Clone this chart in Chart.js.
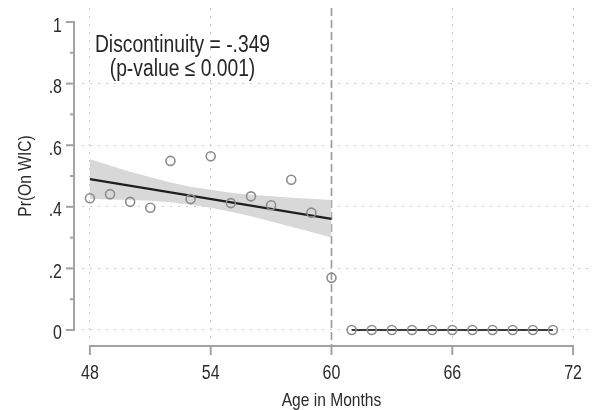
<!DOCTYPE html>
<html><head><meta charset="utf-8">
<script src="https://cdn.jsdelivr.net/npm/chart.js@4.4.0/dist/chart.umd.min.js"></script>
<style>html,body{margin:0;padding:0;background:#fff}#wrap{width:594px;height:410px}</style>
</head><body><div id="wrap"><canvas id="c" width="594" height="410"></canvas></div>
<script>
// ---- data ----
const months = [48,49,50,51,52,53,54,55,56,57,58,59,60,61,62,63,64,65,66,67,68,69,70,71];
const shareOnWIC = [0.428,0.441,0.416,0.397,0.549,0.425,0.564,0.412,0.434,0.405,0.488,0.381,0.170,0,0,0,0,0,0,0,0,0,0,0];
const fitLeftX = [48, 60];
const fitLeftY = [0.490, 0.361];
const fitRightX = [61, 71];
const fitRightY = [0, 0];
const bandX = [48,49,50,51,52,53,54,55,56,57,58,59,60];
const bandUpper = [0.554,0.534,0.514,0.496,0.479,0.465,0.455,0.446,0.439,0.434,0.429,0.426,0.422];
const bandLower = [0.426,0.424,0.422,0.420,0.415,0.407,0.397,0.384,0.369,0.352,0.335,0.318,0.300];
const xTicks = [48,54,60,66,72];
const yTicks = [0,0.2,0.4,0.6,0.8,1];
const yTickLabels = ["0",".2",".4",".6",".8","1"];
const yMinorTicks = [0.1,0.3,0.5,0.7,0.9];
const cutoff = 60;
const noteLines = ["Discontinuity = -.349", "(p-value \u2264 0.001)"];
const xTitle = "Age in Months";
const yTitle = "Pr(On WIC)";

const FONT = "'Liberation Sans','Arial',sans-serif";
const NARROW = 0.82;
const pts = (xs, ys) => xs.map((x, i) => ({x: x, y: ys[i]}));

function narrowText(ctx, text, x, y, size, rot) {
  ctx.save();
  ctx.translate(x, y);
  if (rot) ctx.rotate(rot);
  ctx.scale(NARROW, 1);
  ctx.font = size + "px " + FONT;
  ctx.fillText(text, 0, 0);
  ctx.restore();
}

const axesPlugin = {
  id: 'stataAxes',
  beforeDatasetsDraw(chart) {
    const {ctx, chartArea, scales: {x}} = chart;
    ctx.save();
    ctx.strokeStyle = '#9a9a9a';
    ctx.lineWidth = 1.6;
    ctx.setLineDash([8, 4]);
    const cx = Math.round(x.getPixelForValue(cutoff)) + 0.5;
    ctx.beginPath();
    ctx.moveTo(cx, chartArea.top);
    ctx.lineTo(cx, chartArea.bottom + 8);
    ctx.stroke();
    ctx.restore();
  },
  afterDraw(chart) {
    const {ctx, chartArea, scales: {x, y}} = chart;
    ctx.save();
    ctx.strokeStyle = '#a3a3a3';
    ctx.lineWidth = 2;
    const ax = chartArea.left - 8;
    ctx.beginPath();
    ctx.moveTo(ax, y.getPixelForValue(yTicks[0]));
    ctx.lineTo(ax, y.getPixelForValue(yTicks[yTicks.length - 1]));
    ctx.stroke();
    yTicks.forEach(v => {
      const py = y.getPixelForValue(v);
      ctx.beginPath(); ctx.moveTo(ax - 8, py); ctx.lineTo(ax + 1, py); ctx.stroke();
    });
    yMinorTicks.forEach(v => {
      const py = y.getPixelForValue(v);
      ctx.beginPath(); ctx.moveTo(ax - 4, py); ctx.lineTo(ax + 1, py); ctx.stroke();
    });
    const ay = chartArea.bottom + 8;
    ctx.beginPath();
    ctx.moveTo(x.getPixelForValue(xTicks[0]), ay);
    ctx.lineTo(x.getPixelForValue(xTicks[xTicks.length - 1]), ay);
    ctx.stroke();
    xTicks.forEach(v => {
      const px = x.getPixelForValue(v);
      ctx.beginPath(); ctx.moveTo(px, ay - 1); ctx.lineTo(px, ay + 9); ctx.stroke();
    });
    // tick labels
    ctx.fillStyle = '#2a2a2a';
    ctx.textAlign = 'center';
    ctx.textBaseline = 'alphabetic';
    xTicks.forEach(v => narrowText(ctx, String(v), x.getPixelForValue(v), 379, 19.5, 0));
    ctx.textAlign = 'right';
    yTicks.forEach((v, i) => narrowText(ctx, yTickLabels[i], 62, y.getPixelForValue(v) + 9.5, 19.5, 0));
    // axis titles
    ctx.textAlign = 'center';
    narrowText(ctx, xTitle, (x.getPixelForValue(xTicks[0]) + x.getPixelForValue(xTicks[xTicks.length-1])) / 2, 405.5, 19, 0);
    narrowText(ctx, yTitle, 30.5, (y.getPixelForValue(0) + y.getPixelForValue(1)) / 2, 19, -Math.PI / 2);
    // annotation
    ctx.fillStyle = '#262626';
    narrowText(ctx, noteLines[0], 182.5, chartArea.top + 43.5, 23.5, 0);
    narrowText(ctx, noteLines[1], 182.5, chartArea.top + 67.5, 23.5, 0);
    ctx.restore();
  }
};

new Chart(document.getElementById('c'), {
  type: 'line',
  data: {
    datasets: [
      { label: 'Share on WIC', data: pts(months, shareOnWIC), showLine: false,
        pointRadius: 4.5, pointHoverRadius: 4.5, pointBorderWidth: 1.6,
        pointBorderColor: '#8c8c8c', pointBackgroundColor: 'rgba(0,0,0,0)' },
      { label: 'Fit left', data: pts(fitLeftX, fitLeftY), borderColor: '#1e1e1e',
        borderWidth: 2.4, pointRadius: 0, fill: false },
      { label: 'Fit right', data: pts(fitRightX, fitRightY), borderColor: '#3a3a3a',
        borderWidth: 2, pointRadius: 0, fill: false },
      { label: 'CI upper', data: pts(bandX, bandUpper), borderWidth: 0, borderColor: 'rgba(0,0,0,0)',
        pointRadius: 0, fill: '+1', backgroundColor: '#d8d8d8' },
      { label: 'CI lower', data: pts(bandX, bandLower), borderWidth: 0, borderColor: 'rgba(0,0,0,0)',
        pointRadius: 0, fill: false }
    ]
  },
  options: {
    responsive: false,
    animation: false,
    devicePixelRatio: 1,
    layout: { padding: { top: 8, left: 0, right: 0, bottom: 0 } },
    plugins: { legend: { display: false }, tooltip: { enabled: false } },
    elements: { line: { tension: 0 } },
    scales: {
      x: {
        type: 'linear', min: 47.607, max: 72.736,
        afterBuildTicks: s => { s.ticks = xTicks.map(v => ({value: v})); },
        afterFit: s => { s.height = 72; s.paddingLeft = 0; s.paddingRight = 0; },
        ticks: { display: false },
        grid: { drawTicks: false, lineWidth: 1,
                color: c => (c.tick && c.tick.value === cutoff) ? 'rgba(0,0,0,0)' : '#cccccc' },
        border: { display: false, dash: [2, 6] },
        title: { display: false, text: xTitle }
      },
      y: {
        type: 'linear', min: -0.026, max: 1.0455,
        afterBuildTicks: s => { s.ticks = yTicks.map(v => ({value: v})); },
        afterFit: s => { s.width = 82; s.paddingTop = 0; s.paddingBottom = 0; },
        ticks: { display: false },
        grid: { drawTicks: false, lineWidth: 1,
                color: c => (c.tick && c.tick.value === 1) ? 'rgba(0,0,0,0)' : '#cccccc' },
        border: { display: false, dash: [2, 6] },
        title: { display: false, text: yTitle }
      }
    }
  },
  plugins: [axesPlugin]
});
</script></body></html>
